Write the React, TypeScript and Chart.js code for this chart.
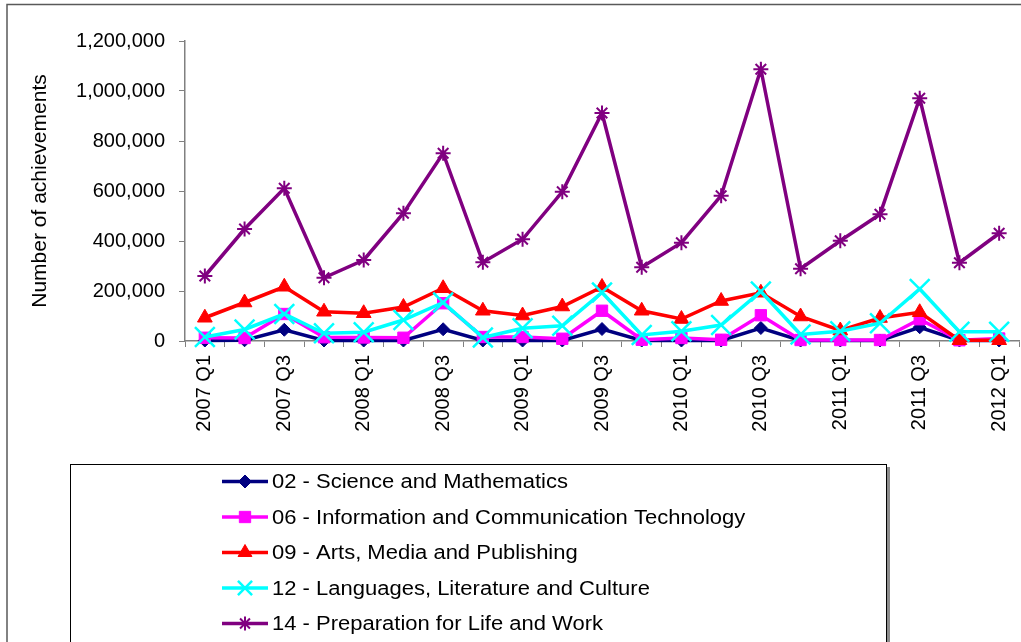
import React, { useEffect, useRef } from "react";
import { Chart, registerables } from "chart.js";

Chart.register(...registerables);

const categories = [
  "2007 Q1", "2007 Q2", "2007 Q3", "2007 Q4",
  "2008 Q1", "2008 Q2", "2008 Q3", "2008 Q4",
  "2009 Q1", "2009 Q2", "2009 Q3", "2009 Q4",
  "2010 Q1", "2010 Q2", "2010 Q3", "2010 Q4",
  "2011 Q1", "2011 Q2", "2011 Q3", "2011 Q4",
  "2012 Q1",
];

const seriesNames = [
  "02 - Science and Mathematics",
  "06 - Information and Communication Technology",
  "09 - Arts, Media and Publishing",
  "12 - Languages, Literature and Culture",
  "14 - Preparation for Life and Work",
];

const science = [2000, 3000, 45000, 2000, 2000, 2000, 47000, 2000, 2000, 2000, 48000, 2000, 2000, 2000, 52000, 2000, 2000, 2000, 55000, 2000, 2000];
const ict = [13000, 12000, 108000, 15000, 14000, 13000, 151000, 16000, 16000, 9000, 121000, 5000, 12000, 5000, 103000, 4000, 4000, 4000, 87000, 3000, 10000];
const arts = [93000, 154000, 217000, 117000, 111000, 136000, 211000, 121000, 102000, 138000, 216000, 121000, 88000, 160000, 193000, 98000, 42000, 92000, 115000, 3000, 3000];
const languages = [16000, 46000, 108000, 31000, 35000, 84000, 154000, 14000, 51000, 61000, 194000, 24000, 39000, 64000, 198000, 26000, 39000, 71000, 208000, 37000, 37000];
const preparation = [260000, 448000, 611000, 253000, 324000, 511000, 751000, 315000, 407000, 597000, 912000, 295000, 393000, 581000, 1087000, 289000, 401000, 507000, 971000, 313000, 431000];

const yMin = 0;
const yMax = 1200000;
const yStep = 200000;
const yTitle = "Number of achievements";

const FONT = "'Liberation Sans', Arial, sans-serif";

const colors = ["#000080", "#FF00FF", "#FF0000", "#00FFFF", "#800080"];
const pointStyles = ["rectRot", "rect", "triangle", "crossRot", "star"];
const pointRadii = [6.5, 8, 8.5, 14, 7.5];
const pointBorderWidths = [1, 1, 1, 2.5, 2];

function drawMarker(ctx: CanvasRenderingContext2D, style: string, x: number, y: number, r: number, color: string, bw: number) {
  ctx.save();
  ctx.fillStyle = color;
  ctx.strokeStyle = color;
  ctx.lineWidth = bw;
  ctx.beginPath();
  if (style === "rectRot") {
    ctx.moveTo(x, y - r);
    ctx.lineTo(x + r, y);
    ctx.lineTo(x, y + r);
    ctx.lineTo(x - r, y);
    ctx.closePath();
    ctx.fill();
    ctx.stroke();
  } else if (style === "rect") {
    const s = r * Math.SQRT1_2;
    ctx.rect(x - s, y - s, 2 * s, 2 * s);
    ctx.fill();
    ctx.stroke();
  } else if (style === "triangle") {
    for (let k = 0; k < 3; k++) {
      const a = (k * 2 * Math.PI) / 3;
      const px = x + Math.sin(a) * r;
      const py = y - Math.cos(a) * r;
      if (k === 0) ctx.moveTo(px, py);
      else ctx.lineTo(px, py);
    }
    ctx.closePath();
    ctx.fill();
    ctx.stroke();
  } else if (style === "crossRot") {
    const d = r * Math.SQRT1_2;
    ctx.moveTo(x - d, y - d);
    ctx.lineTo(x + d, y + d);
    ctx.moveTo(x - d, y + d);
    ctx.lineTo(x + d, y - d);
    ctx.stroke();
  } else if (style === "star") {
    const d = r * Math.SQRT1_2;
    ctx.moveTo(x, y - r);
    ctx.lineTo(x, y + r);
    ctx.moveTo(x - r, y);
    ctx.lineTo(x + r, y);
    ctx.moveTo(x - d, y - d);
    ctx.lineTo(x + d, y + d);
    ctx.moveTo(x - d, y + d);
    ctx.lineTo(x + d, y - d);
    ctx.stroke();
  }
  ctx.restore();
}

const framePlugin = {
  id: "frameAndLegend",
  afterDraw(chart: any) {
    const ctx: CanvasRenderingContext2D = chart.ctx;
    ctx.save();
    // outer frame
    ctx.strokeStyle = "#595959";
    ctx.lineWidth = 1.5;
    ctx.beginPath();
    ctx.moveTo(7, 650);
    ctx.lineTo(7, 4.5);
    ctx.lineTo(1030, 4.5);
    ctx.stroke();
    // legend box with shadow
    ctx.fillStyle = "#8c8c8c";
    ctx.fillRect(887, 467, 3, 190);
    ctx.fillStyle = "#ffffff";
    ctx.fillRect(70.5, 464.5, 816, 200);
    ctx.strokeStyle = "#000000";
    ctx.lineWidth = 1;
    ctx.strokeRect(70.5, 464.5, 816, 200);

    chart.data.datasets.forEach((ds: any, i: number) => {
      const y = 481.5 + i * 35.5;
      ctx.strokeStyle = ds.borderColor;
      ctx.lineWidth = 3.5;
      ctx.beginPath();
      ctx.moveTo(222, y);
      ctx.lineTo(268, y);
      ctx.stroke();
      const r = i === 3 ? 10 : i === 4 ? 7 : i === 1 ? 8 : i === 2 ? 8 : 6.5;
      drawMarker(ctx, pointStyles[i], 245, y, r, colors[i], pointBorderWidths[i]);
      ctx.save();
      ctx.translate(272, y);
      ctx.scale(1.1, 1);
      ctx.fillStyle = "#000000";
      ctx.font = `20px ${FONT}`;
      ctx.textBaseline = "middle";
      ctx.textAlign = "left";
      ctx.fillText(ds.label, 0, 1);
      ctx.restore();
    });
    ctx.restore();
  },
};

export default function App() {
  const canvasRef = useRef<HTMLCanvasElement | null>(null);

  useEffect(() => {
    document.body.style.margin = "0";
    const canvas = canvasRef.current;
    if (!canvas) return;
    const seriesData = [science, ict, arts, languages, preparation];
    const chart = new Chart(canvas, {
      type: "line",
      data: {
        labels: categories,
        datasets: seriesData.map((d, i) => ({
          label: seriesNames[i],
          data: d,
          borderColor: colors[i],
          backgroundColor: colors[i],
          borderWidth: 3.5,
          pointStyle: pointStyles[i] as any,
          pointRadius: pointRadii[i],
          pointHoverRadius: pointRadii[i],
          pointBorderWidth: pointBorderWidths[i],
          pointBorderColor: colors[i],
          pointBackgroundColor: colors[i],
          tension: 0,
          fill: false,
          clip: false as any,
          order: seriesData.length - i,
        })),
      },
      options: {
        responsive: false,
        animation: false,
        devicePixelRatio: 1,
        layout: { autoPadding: false, padding: { left: 0, right: 2, top: 41, bottom: 201 } },
        plugins: {
          legend: { display: false },
          tooltip: { enabled: false },
          title: { display: false },
        },
        scales: {
          x: {
            type: "category",
            offset: true,
            grid: {
              offset: true,
              drawOnChartArea: false,
              drawTicks: true,
              tickLength: 6,
              tickColor: "#808080",
              lineWidth: 1,
            },
            border: { display: true, color: "#808080", width: 1.5 },
            ticks: {
              autoSkip: false,
              minRotation: 90,
              maxRotation: 90,
              padding: 8,
              color: "#000000",
              font: { family: FONT, size: 20 },
              callback: (_v: any, idx: number) => (idx % 2 === 0 ? categories[idx] : ""),
            },
            afterFit: (scale: any) => {
              scale.height = 100;
              scale.paddingLeft = 0;
              scale.paddingRight = 0;
            },
          },
          y: {
            min: yMin,
            max: yMax,
            grid: {
              drawOnChartArea: false,
              drawTicks: true,
              tickLength: 6,
              tickColor: "#808080",
            },
            border: { display: true, color: "#808080", width: 1.5 },
            ticks: {
              stepSize: yStep,
              padding: 14,
              color: "#000000",
              font: { family: FONT, size: 20 },
              callback: (v: any) => Number(v).toLocaleString("en-US"),
            },
            title: {
              display: true,
              text: yTitle,
              color: "#000000",
              font: { family: FONT, size: 21 },
              padding: { top: 28, bottom: 0 },
            },
            afterFit: (scale: any) => {
              scale.width = 185;
              scale.paddingTop = 0;
              scale.paddingBottom = 0;
            },
          },
        },
      },
      plugins: [framePlugin],
    });
    return () => chart.destroy();
  }, []);

  return (
    <div style={{ width: 1021, height: 642, position: "relative", overflow: "hidden" }}>
      <canvas ref={canvasRef} width={1021} height={642} style={{ display: "block" }} />
    </div>
  );
}
